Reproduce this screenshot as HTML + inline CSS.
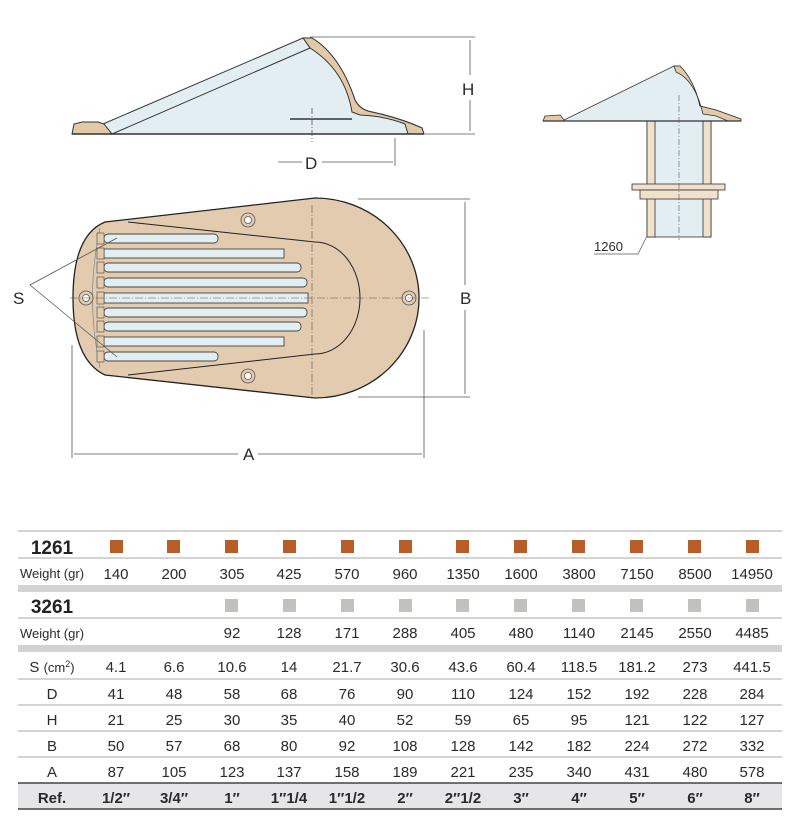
<!DOCTYPE html>
<html><head><meta charset="utf-8"><style>
html,body{margin:0;padding:0;background:#fff;width:800px;height:826px;overflow:hidden}
text{font-family:"Liberation Sans",sans-serif;fill:#2a2a2a}
</style></head><body>
<svg width="800" height="826" viewBox="0 0 800 826" xmlns="http://www.w3.org/2000/svg">
<!-- SIDE VIEW -->
<g stroke="#333" stroke-width="1">
<path d="M108,134 L303,38 L312,38 Q340,55 355,100 Q360,110 372,112 Q400,118 422,128 L424,134 Z" fill="#e3eef3"/>
<path d="M303,38 L312,38 Q340,55 355,100 Q360,110 372,112 Q400,118 422,128 L424,134 L408,134 L405,124 Q385,116 360,115 L352,112 Q345,70 310,48 Z" fill="#e2c9a8"/>
<path d="M103,124 L303,38 L310,48 L112,134 Z" fill="#e3eef3"/>
<path d="M72,134 L74,124 L82,122 L98,122 L104,124 L112,134 Z" fill="#e2c9a8"/>
<line x1="72" y1="134" x2="424" y2="134" stroke-width="1.5"/>
<line x1="290" y1="119" x2="352" y2="119" stroke-width="1.5"/>
</g>
<g stroke="#555" stroke-width="0.8" fill="none">
<line x1="310" y1="37" x2="475" y2="37"/><line x1="425" y1="134" x2="475" y2="134"/>
<line x1="470" y1="40" x2="470" y2="75"/><line x1="470" y1="100" x2="470" y2="131"/>
<line x1="395" y1="138" x2="395" y2="166"/>
<line x1="278" y1="162" x2="302" y2="162"/><line x1="322" y1="162" x2="393" y2="162"/>
<line x1="312" y1="108" x2="312" y2="142" stroke-dasharray="6,2,1,2"/>
</g>
<text x="462" y="95" font-size="17">H</text>
<text x="305" y="169" font-size="17">D</text>
<!-- SMALL VIEW -->
<g stroke="#333" stroke-width="0.8">
<rect x="647" y="114" width="64" height="123" fill="#e3eef3"/>
<rect x="647" y="114" width="8" height="123" fill="#efe1cc"/><rect x="703" y="114" width="8" height="123" fill="#efe1cc"/>
<rect x="632" y="184" width="93" height="6" fill="#efe1cc"/>
<rect x="640" y="190" width="78" height="9" fill="#efe1cc"/>
<path d="M562,121 L674,66 L680,66 Q694,80 700,106 L716,110 L741,119 L741,121 Z" fill="#e3eef3"/>
<path d="M674,66 L680,66 Q694,80 700,106 L716,110 L741,119 L741,121 L728,121 L716,116 L703,114 Q695,80 676,72 Z" fill="#e2c9a8"/>
<path d="M543,121 L545,116 L560,115 L565,121 Z" fill="#e2c9a8"/>
<line x1="543" y1="121" x2="741" y2="121" stroke-width="1.3"/>
</g>
<line x1="679" y1="95" x2="679" y2="240" stroke="#555" stroke-width="0.6" stroke-dasharray="6,2,1,2"/>
<polyline points="594,254 638,254 647,236" fill="none" stroke="#555" stroke-width="0.7"/>
<text x="594" y="251" font-size="13">1260</text>
<!-- TOP VIEW -->
<path d="M105,222 L315,198 A104,100 0 0 1 315,398 L105,375 Q73,360 73,298 Q73,235 105,222 Z" fill="#e2cbae" stroke="#222" stroke-width="1.3"/>
<path d="M128,222 L315,242 A45,56 0 0 1 315,354 L128,375" fill="none" stroke="#222" stroke-width="1"/>
<path d="M100,228 Q85,298 100,368" fill="none" stroke="#777" stroke-width="0.6"/>
<g fill="#e3eef3" stroke="#444" stroke-width="0.9">
<rect x="104" y="234" width="114" height="9" rx="4"/>
<rect x="104" y="249" width="180" height="9"/>
<rect x="104" y="263" width="197" height="9" rx="4"/>
<rect x="104" y="278" width="203" height="9" rx="4"/>
<rect x="104" y="293" width="204" height="10"/>
<rect x="104" y="308" width="203" height="9" rx="4"/>
<rect x="104" y="322" width="197" height="9" rx="4"/>
<rect x="104" y="337" width="180" height="9"/>
<rect x="104" y="352" width="114" height="9" rx="4"/>
</g>
<g fill="#e2cbae" stroke="#444" stroke-width="0.6">
<rect x="97" y="233" width="7" height="11"/><rect x="97" y="248" width="7" height="11"/><rect x="97" y="262" width="7" height="11"/>
<rect x="97" y="277" width="7" height="11"/><rect x="97" y="292" width="7" height="12"/><rect x="97" y="307" width="7" height="11"/>
<rect x="97" y="321" width="7" height="11"/><rect x="97" y="336" width="7" height="11"/><rect x="97" y="351" width="7" height="11"/>
</g>
<g fill="#fff" stroke="#555" stroke-width="0.8">
<circle cx="248" cy="220" r="7" fill="#e2cbae"/><circle cx="248" cy="220" r="3.5"/>
<circle cx="248" cy="376" r="7" fill="#e2cbae"/><circle cx="248" cy="376" r="3.5"/>
<circle cx="86" cy="298" r="7" fill="#e2cbae"/><circle cx="86" cy="298" r="3.5"/>
<circle cx="409" cy="298" r="7" fill="#e2cbae"/><circle cx="409" cy="298" r="3.5"/>
</g>
<g stroke="#555" stroke-width="0.6" fill="none" stroke-dasharray="8,2,1,2">
<line x1="70" y1="298" x2="430" y2="298"/><line x1="312" y1="205" x2="312" y2="395"/>
</g>
<g stroke="#555" stroke-width="0.8" fill="none">
<line x1="358" y1="199" x2="470" y2="199"/><line x1="358" y1="397" x2="470" y2="397"/>
<line x1="465" y1="202" x2="465" y2="285"/><line x1="465" y1="310" x2="465" y2="394"/>
<line x1="72" y1="345" x2="72" y2="458"/><line x1="424" y1="330" x2="424" y2="458"/>
<line x1="74" y1="454" x2="238" y2="454"/><line x1="258" y1="454" x2="422" y2="454"/>
<polyline points="117,238 30,285 117,357"/>
</g>
<text x="460" y="304" font-size="17">B</text>
<text x="243" y="460" font-size="17">A</text>
<text x="13" y="304" font-size="17">S</text>
<!-- TABLE -->
<rect x="18" y="585" width="764" height="7" fill="#d3d3d3"/>
<rect x="18" y="645" width="764" height="7" fill="#d3d3d3"/>
<rect x="18" y="783" width="764" height="26" fill="#e6e6e8"/>
<g stroke="#aaa" stroke-width="1">
<line x1="18" y1="531" x2="782" y2="531"/><line x1="18" y1="558" x2="782" y2="558"/>
<line x1="18" y1="618" x2="782" y2="618"/><line x1="18" y1="679" x2="782" y2="679"/>
<line x1="18" y1="705" x2="782" y2="705"/><line x1="18" y1="731" x2="782" y2="731"/>
<line x1="18" y1="757" x2="782" y2="757"/>
</g>
<line x1="18" y1="783" x2="782" y2="783" stroke="#444" stroke-width="1.5"/>
<line x1="18" y1="809" x2="782" y2="809" stroke="#444" stroke-width="1.5"/>
<g fill="#b85c28">
<rect x="110" y="540" width="13" height="13"/><rect x="167" y="540" width="13" height="13"/><rect x="225" y="540" width="13" height="13"/>
<rect x="283" y="540" width="13" height="13"/><rect x="341" y="540" width="13" height="13"/><rect x="399" y="540" width="13" height="13"/>
<rect x="456" y="540" width="13" height="13"/><rect x="514" y="540" width="13" height="13"/><rect x="572" y="540" width="13" height="13"/>
<rect x="630" y="540" width="13" height="13"/><rect x="688" y="540" width="13" height="13"/><rect x="746" y="540" width="13" height="13"/>
</g>
<g fill="#c2c2bd">
<rect x="225" y="599" width="13" height="13"/><rect x="283" y="599" width="13" height="13"/><rect x="341" y="599" width="13" height="13"/>
<rect x="399" y="599" width="13" height="13"/><rect x="456" y="599" width="13" height="13"/><rect x="514" y="599" width="13" height="13"/>
<rect x="572" y="599" width="13" height="13"/><rect x="630" y="599" width="13" height="13"/><rect x="688" y="599" width="13" height="13"/>
<rect x="746" y="599" width="13" height="13"/>
</g>
<text x="52" y="554" font-size="19" font-weight="bold" text-anchor="middle" style="fill:#222">1261</text>
<text x="52" y="613" font-size="19" font-weight="bold" text-anchor="middle" style="fill:#222">3261</text>
<g font-size="13" text-anchor="middle" style="fill:#555">
<text x="52" y="578">Weight (gr)</text><text x="52" y="638">Weight (gr)</text>
</g>
<g font-size="15" text-anchor="middle" style="fill:#444">
<text x="52" y="672">S <tspan font-size="13">(cm</tspan><tspan font-size="9" dy="-5">2</tspan><tspan font-size="13" dy="5">)</tspan></text>
<text x="52" y="699">D</text><text x="52" y="725">H</text><text x="52" y="751">B</text><text x="52" y="777">A</text>
</g>
<g font-size="15" text-anchor="middle" style="fill:#444">
<text y="579"><tspan x="116">140</tspan><tspan x="174">200</tspan><tspan x="232">305</tspan><tspan x="289">425</tspan><tspan x="347">570</tspan><tspan x="405">960</tspan><tspan x="463">1350</tspan><tspan x="521">1600</tspan><tspan x="579">3800</tspan><tspan x="637">7150</tspan><tspan x="695">8500</tspan><tspan x="752">14950</tspan></text>
<text y="638"><tspan x="232">92</tspan><tspan x="289">128</tspan><tspan x="347">171</tspan><tspan x="405">288</tspan><tspan x="463">405</tspan><tspan x="521">480</tspan><tspan x="579">1140</tspan><tspan x="637">2145</tspan><tspan x="695">2550</tspan><tspan x="752">4485</tspan></text>
<text y="672"><tspan x="116">4.1</tspan><tspan x="174">6.6</tspan><tspan x="232">10.6</tspan><tspan x="289">14</tspan><tspan x="347">21.7</tspan><tspan x="405">30.6</tspan><tspan x="463">43.6</tspan><tspan x="521">60.4</tspan><tspan x="579">118.5</tspan><tspan x="637">181.2</tspan><tspan x="695">273</tspan><tspan x="752">441.5</tspan></text>
<text y="699"><tspan x="116">41</tspan><tspan x="174">48</tspan><tspan x="232">58</tspan><tspan x="289">68</tspan><tspan x="347">76</tspan><tspan x="405">90</tspan><tspan x="463">110</tspan><tspan x="521">124</tspan><tspan x="579">152</tspan><tspan x="637">192</tspan><tspan x="695">228</tspan><tspan x="752">284</tspan></text>
<text y="725"><tspan x="116">21</tspan><tspan x="174">25</tspan><tspan x="232">30</tspan><tspan x="289">35</tspan><tspan x="347">40</tspan><tspan x="405">52</tspan><tspan x="463">59</tspan><tspan x="521">65</tspan><tspan x="579">95</tspan><tspan x="637">121</tspan><tspan x="695">122</tspan><tspan x="752">127</tspan></text>
<text y="751"><tspan x="116">50</tspan><tspan x="174">57</tspan><tspan x="232">68</tspan><tspan x="289">80</tspan><tspan x="347">92</tspan><tspan x="405">108</tspan><tspan x="463">128</tspan><tspan x="521">142</tspan><tspan x="579">182</tspan><tspan x="637">224</tspan><tspan x="695">272</tspan><tspan x="752">332</tspan></text>
<text y="777"><tspan x="116">87</tspan><tspan x="174">105</tspan><tspan x="232">123</tspan><tspan x="289">137</tspan><tspan x="347">158</tspan><tspan x="405">189</tspan><tspan x="463">221</tspan><tspan x="521">235</tspan><tspan x="579">340</tspan><tspan x="637">431</tspan><tspan x="695">480</tspan><tspan x="752">578</tspan></text>
</g>
<g font-size="15" font-weight="bold" text-anchor="middle" style="fill:#222">
<text y="803"><tspan x="52">Ref.</tspan><tspan x="116">1/2″</tspan><tspan x="174">3/4″</tspan><tspan x="232">1″</tspan><tspan x="289">1″1/4</tspan><tspan x="347">1″1/2</tspan><tspan x="405">2″</tspan><tspan x="463">2″1/2</tspan><tspan x="521">3″</tspan><tspan x="579">4″</tspan><tspan x="637">5″</tspan><tspan x="695">6″</tspan><tspan x="752">8″</tspan></text>
</g>
</svg>
</body></html>
